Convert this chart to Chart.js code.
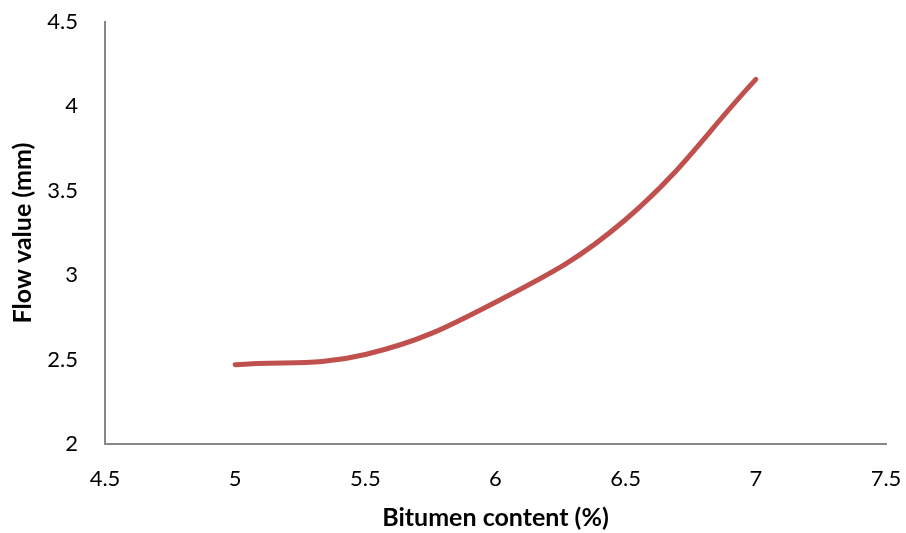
<!DOCTYPE html>
<html>
<head>
<meta charset="utf-8">
<script src="https://cdn.jsdelivr.net/npm/chart.js@4"></script>
<style>
  html, body { margin: 0; padding: 0; background: #fff; }
  #wrap { width: 906px; height: 533px; position: relative; }
</style>
</head>
<body>
<div id="wrap"><canvas id="c" width="906" height="533"></canvas></div>
<script>
const bitumenContent = [5, 5.5, 6, 6.5, 7];
const flowValue = [2.47, 2.53, 2.84, 3.33, 4.16];
const xTitle = 'Bitumen content (%)';
const yTitle = 'Flow value (mm)';

const points = bitumenContent.map((x, i) => ({ x: x, y: flowValue[i] }));
const FONT = 'Lato, "Liberation Sans", sans-serif';
const fmt = (v) => String(Math.round(v * 10) / 10);

new Chart(document.getElementById('c'), {
  type: 'scatter',
  data: {
    datasets: [{
      data: points,
      showLine: true,
      borderColor: '#C0504D',
      backgroundColor: '#C0504D',
      borderWidth: 5,
      pointRadius: 0,
      tension: 0.4,
      borderCapStyle: 'round',
      borderJoinStyle: 'round'
    }]
  },
  options: {
    responsive: false,
    animation: false,
    devicePixelRatio: 1,
    layout: { padding: { left: 0, right: 20, top: 22, bottom: 0 } },
    plugins: { legend: { display: false }, tooltip: { enabled: false } },
    scales: {
      x: {
        type: 'linear',
        min: 4.5, max: 7.5,
        grid: { display: false, drawTicks: false },
        border: { display: true, color: '#878787', width: 2 },
        ticks: { stepSize: 0.5, padding: 22, color: '#000', font: { family: FONT, size: 22 }, maxRotation: 0, callback: fmt },
        title: { display: true, text: xTitle, color: '#000', font: { family: FONT, size: 25, weight: 'bold' }, padding: { top: 0, bottom: 0 } },
        afterFit: (s) => { s.height = 533 - 444; s.paddingLeft = 0; s.paddingRight = 0; }
      },
      y: {
        type: 'linear',
        min: 2, max: 4.5,
        grid: { display: false, drawTicks: false },
        border: { display: true, color: '#878787', width: 2 },
        ticks: { stepSize: 0.5, padding: 27, color: '#000', font: { family: FONT, size: 22 }, callback: fmt },
        title: { display: true, text: yTitle, color: '#000', font: { family: FONT, size: 25, weight: 'bold' }, padding: { top: 8, bottom: 0 } },
        afterFit: (s) => { s.width = 105; s.paddingTop = 0; s.paddingBottom = 0; }
      }
    }
  }
});
</script>
</body>
</html>
